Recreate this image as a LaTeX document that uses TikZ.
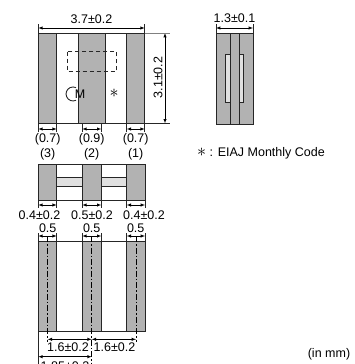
\documentclass[tikz,border=0pt]{standalone}
\usepackage{fontspec}
\setmainfont{Liberation Sans}
\usetikzlibrary{arrows}
\usetikzlibrary{calc}
\begin{document}
\begin{tikzpicture}[x=1pt, y=-1pt, font=\fontsize{12.5}{13}\selectfont,
	band/.style={draw=black!85, line width=.9pt, fill=black!30},
	part/.style={draw=black!85, line width=.9pt},
	bar/.style={draw=black!85, line width=.9pt, fill=black!12},
	dim/.style={<->, >=latex, line width=.5pt},
	ext/.style={line width=.5pt, color=black!85},
	cline/.style={line width=.5pt, dash pattern=on 6pt off 2pt on 1.5pt off 2pt},
	txt/.style={inner sep=0pt}]
	\useasboundingbox (0, 0) rectangle (354, 364);
	% top view
	\coordinate (T1) at (38.3, 33) ;
	\coordinate (T2) at (144.7, 123.3) ;
	\draw[part] (T1) rectangle (T2);
	\draw[band] (38.3, 33) rectangle (56.7, 123.3);
	\draw[band] (78, 33) rectangle (105.3, 123.3);
	\draw[band] (126.7, 33) rectangle (144.7, 123.3);
	\draw[part, dash pattern=on 4pt off 3pt] (67.3, 51.7) rectangle (116.7, 71.3);
	\coordinate (Mark) at (76, 100.3) ;
	\draw[part] (Mark) arc (65:295:7);
	\node[txt] (MLabel) at (80, 94) {M};
	\node[txt, scale=1.5] (StarLabel) at (114, 93) {$\ast$};
	% overall size of top view
	\coordinate (W1) at (38.3, 28) ;
	\coordinate (W2) at (144.7, 28) ;
	\draw[dim] (W1) -- (W2);
	\draw[ext] (38.3, 24) -- (T1);
	\draw[ext] (144.7, 24) -- (144.7, 33);
	\node[txt] (WLabel) at (91.5, 19) {3.7±0.2};
	\coordinate (H1) at (165, 33) ;
	\coordinate (H2) at (165, 123.3) ;
	\draw[dim] (H1) -- (H2);
	\draw[ext, color=black!50, line width=.8pt] (144.7, 33) -- (170, 33);
	\draw[ext] (T2) -- (170, 123.3);
	\node[txt, rotate=90] (HLabel) at (158, 77.5) {3.1±0.2};
	% terminal widths, top view
	\coordinate (A1) at (38.3, 129) ;
	\coordinate (A2) at (56.7, 129) ;
	\coordinate (B1) at (82.3, 129) ;
	\coordinate (B2) at (101.3, 129) ;
	\coordinate (C1) at (126.7, 129) ;
	\coordinate (C2) at (144.7, 129) ;
	\draw[dim] (A1) -- (A2);
	\draw[dim] (B1) -- (B2);
	\draw[dim] (C1) -- (C2);
	\draw[ext] ($(A1)+(0, -5)$) -- ($(A1)+(0, 3)$);
	\draw[ext] ($(A2)+(0, -5)$) -- ($(A2)+(0, 3)$);
	\draw[ext] ($(B1)+(0, -5)$) -- ($(B1)+(0, 3)$);
	\draw[ext] ($(B2)+(0, -5)$) -- ($(B2)+(0, 3)$);
	\draw[ext] ($(C1)+(0, -5)$) -- ($(C1)+(0, 3)$);
	\draw[ext] ($(C2)+(0, -5)$) -- ($(C2)+(0, 3)$);
	\node[txt] (ALabel) at (47.7, 139.5) {(0.7)};
	\node[txt] (BLabel) at (91.7, 139.5) {(0.9)};
	\node[txt] (CLabel) at (135.7, 139.5) {(0.7)};
	\node[txt] (Pin3) at (47.7, 154) {(3)};
	\node[txt] (Pin2) at (91.7, 154) {(2)};
	\node[txt] (Pin1) at (135.7, 154) {(1)};
	% side view
	\draw[band] (216, 33) rectangle (253, 124);
	\draw[part] (230, 33) -- (230, 124);
	\draw[part] (239, 33) -- (239, 124);
	\draw[bar] (225.7, 54) rectangle (230, 102);
	\draw[bar] (239, 54) rectangle (243.3, 102);
	\coordinate (S1) at (216, 28) ;
	\coordinate (S2) at (253, 28) ;
	\draw[dim] (S1) -- (S2);
	\draw[ext] (216, 24) -- (216, 33);
	\draw[ext] (253, 24) -- (253, 33);
	\node[txt] (SLabel) at (234.5, 18.5) {1.3±0.1};
	\node[txt, anchor=west] (NoteLabel) at (197, 153) {\scalebox{1.5}{$\ast$} : EIAJ Monthly Code};
	\node[txt] (UnitLabel) at (329, 354) {(in mm)};
	% middle view
	\draw[part] (38.3, 164) rectangle (145, 200);
	\draw[bar] (56.7, 177.3) rectangle (82.3, 186);
	\draw[bar] (101.3, 177.3) rectangle (126.7, 186);
	\draw[band] (38.3, 164) rectangle (56.7, 200);
	\draw[band] (82.3, 164) rectangle (101.3, 200);
	\draw[band] (126.7, 164) rectangle (145, 200);
	\coordinate (D1) at (38.3, 205) ;
	\coordinate (D2) at (56.7, 205) ;
	\coordinate (E1) at (82.3, 205) ;
	\coordinate (E2) at (101.3, 205) ;
	\coordinate (F1) at (126.7, 205) ;
	\coordinate (F2) at (145, 205) ;
	\draw[dim] (D1) -- (D2);
	\draw[dim] (E1) -- (E2);
	\draw[dim] (F1) -- (F2);
	\draw[ext] ($(D1)+(0, -5)$) -- ($(D1)+(0, 3)$);
	\draw[ext] ($(D2)+(0, -5)$) -- ($(D2)+(0, 3)$);
	\draw[ext] ($(E1)+(0, -5)$) -- ($(E1)+(0, 3)$);
	\draw[ext] ($(E2)+(0, -5)$) -- ($(E2)+(0, 3)$);
	\draw[ext] ($(F1)+(0, -5)$) -- ($(F1)+(0, 3)$);
	\draw[ext] ($(F2)+(0, -5)$) -- ($(F2)+(0, 3)$);
	\node[txt] (DLabel) at (39.5, 215) {0.4±0.2};
	\node[txt] (ELabel) at (92, 215) {0.5±0.2};
	\node[txt] (FLabel) at (144, 215) {0.4±0.2};
	\node[txt] (GLabel) at (47.7, 228) {0.5};
	\node[txt] (HhLabel) at (91.7, 228) {0.5};
	\node[txt] (ILabel) at (135.7, 228) {0.5};
	% land pattern
	\draw[part] (38.3, 241) rectangle (145, 331.7);
	\draw[band] (38.3, 241) rectangle (56.7, 331.7);
	\draw[band] (82.3, 241) rectangle (101.3, 331.7);
	\draw[band] (126.7, 241) rectangle (145, 331.7);
	\coordinate (G1) at (38.3, 236) ;
	\coordinate (G2) at (56.7, 236) ;
	\coordinate (Hh1) at (82.3, 236) ;
	\coordinate (Hh2) at (101.3, 236) ;
	\coordinate (I1) at (126.7, 236) ;
	\coordinate (I2) at (145, 236) ;
	\draw[dim] (G1) -- (G2);
	\draw[dim] (Hh1) -- (Hh2);
	\draw[dim] (I1) -- (I2);
	\draw[ext] ($(G1)+(0, -3)$) -- ($(G1)+(0, 5)$);
	\draw[ext] ($(G2)+(0, -3)$) -- ($(G2)+(0, 5)$);
	\draw[ext] ($(Hh1)+(0, -3)$) -- ($(Hh1)+(0, 5)$);
	\draw[ext] ($(Hh2)+(0, -3)$) -- ($(Hh2)+(0, 5)$);
	\draw[ext] ($(I1)+(0, -3)$) -- ($(I1)+(0, 5)$);
	\draw[ext] ($(I2)+(0, -3)$) -- ($(I2)+(0, 5)$);
	\coordinate (P1) at (47.7, 339.3) ;
	\coordinate (P2) at (91.7, 339.3) ;
	\coordinate (P3) at (136, 339.3) ;
	\coordinate (P4) at (38.3, 356.7) ;
	\coordinate (P5) at (91.7, 356.7) ;
	\draw[cline] (47.7, 236) -- (47.7, 342);
	\draw[cline] (91.7, 236) -- (91.7, 364);
	\draw[cline] (136, 236) -- (136, 342);
	\draw[ext] (38.3, 331.7) -- (38.3, 364);
	\draw[dim] (P1) -- (P2);
	\draw[dim] (P2) -- (P3);
	\draw[dim] (P4) -- (P5);
	\node[txt] (PLabel) at (68, 347.5) {1.6±0.2};
	\node[txt] (QLabel) at (114.5, 347.5) {1.6±0.2};
	\node[txt] (RLabel) at (65, 366) {1.85±0.2};
\end{tikzpicture}
\end{document}
